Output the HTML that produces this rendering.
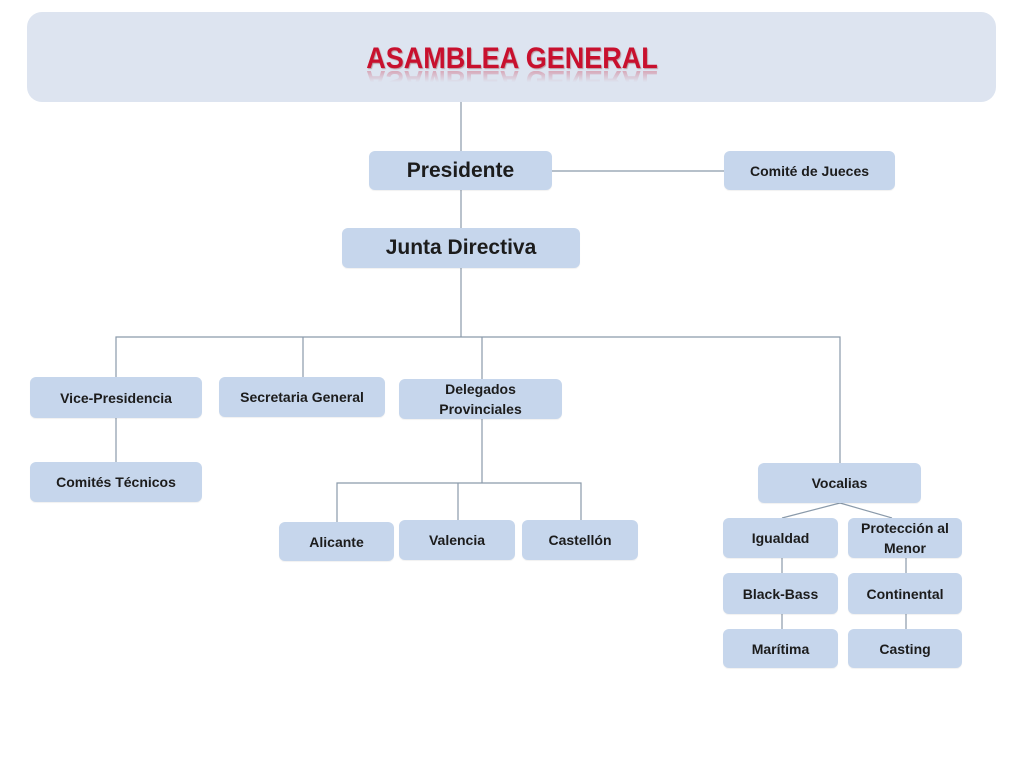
<!DOCTYPE html>
<html>
<head>
<meta charset="utf-8">
<style>
  html,body{margin:0;padding:0;background:#fff;}
  body{width:1024px;height:768px;position:relative;overflow:hidden;font-family:"Liberation Sans",sans-serif;}
  .hdr{position:absolute;left:27px;top:12px;width:969px;height:90px;background:#dde4f0;border-radius:15px;}
  .title{position:absolute;left:0;top:41px;width:1024px;text-align:center;font-weight:bold;font-size:30px;color:#c8102e;line-height:36px;}
  .title span{display:inline-block;transform:scaleX(0.9);text-shadow:1px 1px 1px rgba(120,0,0,0.35);}
  .refl{position:absolute;left:0;top:62px;width:1024px;height:36px;text-align:center;font-weight:bold;font-size:30px;color:#c8102e;line-height:36px;overflow:hidden;
    -webkit-mask-image:linear-gradient(to bottom,rgba(0,0,0,0) 0,rgba(0,0,0,0) 9px,rgba(0,0,0,0.28) 9px,rgba(0,0,0,0) 20px);
    mask-image:linear-gradient(to bottom,rgba(0,0,0,0) 0,rgba(0,0,0,0) 9px,rgba(0,0,0,0.28) 9px,rgba(0,0,0,0) 20px);}
  .refl span{display:inline-block;transform:scaleX(0.9) scaleY(-1);}
  .b{position:absolute;background:#c6d6ec;border-radius:6px;display:flex;align-items:center;justify-content:center;text-align:center;font-weight:bold;color:#1c1c1c;font-size:14px;line-height:20px;box-shadow:0 1px 1px rgba(0,0,0,0.06);}
  svg{position:absolute;left:0;top:0;}
</style>
</head>
<body>
<div class="hdr"></div>
<div class="refl"><span>ASAMBLEA GENERAL</span></div>
<div class="title"><span>ASAMBLEA GENERAL</span></div>

<svg width="1024" height="768" viewBox="0 0 1024 768">
  <g stroke="#8a9aaa" stroke-width="1.2" fill="none">
    <line x1="461" y1="102" x2="461" y2="151"/>
    <line x1="552" y1="171" x2="724" y2="171"/>
    <line x1="461" y1="190" x2="461" y2="228"/>
    <line x1="461" y1="268" x2="461" y2="337"/>
    <polyline points="116,377 116,337 840,337 840,463"/>
    <line x1="303" y1="337" x2="303" y2="377"/>
    <line x1="482" y1="337" x2="482" y2="379"/>
    <line x1="116" y1="418" x2="116" y2="462"/>
    <line x1="482" y1="419" x2="482" y2="483"/>
    <polyline points="337,522 337,483 581,483 581,520"/>
    <line x1="458" y1="483" x2="458" y2="520"/>
    <line x1="840" y1="503" x2="782" y2="518"/>
    <line x1="840" y1="503" x2="892" y2="518"/>
    <line x1="782" y1="558" x2="782" y2="573"/>
    <line x1="782" y1="614" x2="782" y2="629"/>
    <line x1="906" y1="558" x2="906" y2="573"/>
    <line x1="906" y1="614" x2="906" y2="629"/>
  </g>
</svg>

<div class="b" style="left:369px;top:151px;width:183px;height:39px;font-size:21px;">Presidente</div>
<div class="b" style="left:724px;top:151px;width:171px;height:39px;">Comité de Jueces</div>
<div class="b" style="left:342px;top:228px;width:238px;height:40px;font-size:21px;">Junta Directiva</div>

<div class="b" style="left:30px;top:377px;width:172px;height:41px;">Vice-Presidencia</div>
<div class="b" style="left:219px;top:377px;width:166px;height:40px;">Secretaria General</div>
<div class="b" style="left:399px;top:379px;width:163px;height:40px;">Delegados<br>Provinciales</div>
<div class="b" style="left:30px;top:462px;width:172px;height:40px;">Comités Técnicos</div>

<div class="b" style="left:279px;top:522px;width:115px;height:39px;">Alicante</div>
<div class="b" style="left:399px;top:520px;width:116px;height:40px;">Valencia</div>
<div class="b" style="left:522px;top:520px;width:116px;height:40px;">Castellón</div>

<div class="b" style="left:758px;top:463px;width:163px;height:40px;">Vocalias</div>
<div class="b" style="left:723px;top:518px;width:115px;height:40px;">Igualdad</div>
<div class="b" style="left:848px;top:518px;width:114px;height:40px;">Protección al<br>Menor</div>
<div class="b" style="left:723px;top:573px;width:115px;height:41px;">Black-Bass</div>
<div class="b" style="left:848px;top:573px;width:114px;height:41px;">Continental</div>
<div class="b" style="left:723px;top:629px;width:115px;height:39px;">Marítima</div>
<div class="b" style="left:848px;top:629px;width:114px;height:39px;">Casting</div>
</body>
</html>
